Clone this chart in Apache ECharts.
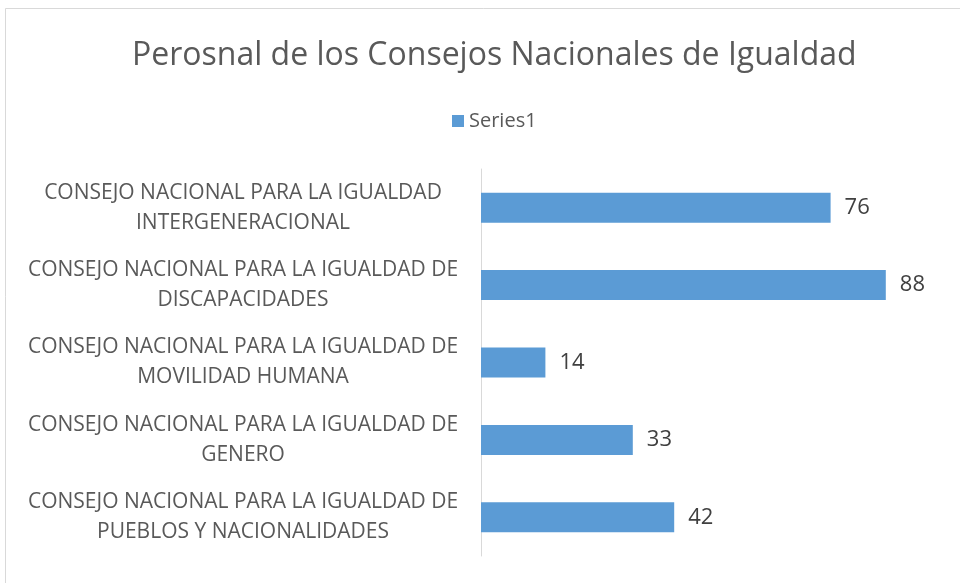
<!DOCTYPE html>
<html>
<head>
<meta charset="utf-8">
<script src="https://cdn.jsdelivr.net/npm/echarts@6/dist/echarts.min.js"></script>
<style>html,body{margin:0;padding:0;background:#fff;}#c{width:960px;height:583px;}</style>
</head>
<body>
<div id="c"></div>
<script>
const categories = [
  "CONSEJO NACIONAL PARA LA IGUALDAD\nINTERGENERACIONAL",
  "CONSEJO NACIONAL PARA LA IGUALDAD DE\nDISCAPACIDADES",
  "CONSEJO NACIONAL PARA LA IGUALDAD DE\nMOVILIDAD HUMANA",
  "CONSEJO NACIONAL PARA LA IGUALDAD DE\nGENERO",
  "CONSEJO NACIONAL PARA LA IGUALDAD DE\nPUEBLOS Y NACIONALIDADES"
];
const values = [76, 88, 14, 33, 42];
const seriesName = "Series1";
const titleText = "Perosnal de los Consejos Nacionales de Igualdad";

const chart = echarts.init(document.getElementById('c'), null, {renderer: 'canvas'});
const font = "'Open Sans', 'Liberation Sans', Arial, sans-serif";
chart.setOption({
  animation: false,
  backgroundColor: '#fff',
  graphic: [{
    type: 'rect', shape: {x: 5.5, y: 8.5, width: 1000, height: 700},
    style: {fill: 'none', stroke: '#d9d9d9', lineWidth: 1}, silent: true, z: -1
  }],
  title: {
    text: titleText, left: 127, top: 35,
    textStyle: {fontFamily: font, fontSize: 32, fontWeight: 'normal', color: '#595959'}
  },
  legend: {
    data: [seriesName], left: 447, top: 106, itemWidth: 12, itemHeight: 12, itemGap: 6,
    icon: 'rect',
    textStyle: {fontFamily: font, fontSize: 20, color: '#595959'}
  },
  grid: {left: 481, right: 19, top: 169, bottom: 27, containLabel: false},
  xAxis: {
    type: 'value', min: 0, max: 100, show: false, splitLine: {show: false}
  },
  yAxis: {
    type: 'category', data: categories, inverse: true,
    axisLine: {show: true, lineStyle: {color: '#d9d9d9', width: 1}},
    axisTick: {show: false},
    axisLabel: {
      fontFamily: font, fontSize: 21, color: '#595959', align: 'center',
      margin: 238, lineHeight: 30
    }
  },
  series: [{
    name: seriesName, type: 'bar', data: values, barWidth: 30,
    itemStyle: {color: '#5b9bd5'},
    label: {show: true, position: 'right', distance: 14, fontFamily: font, fontSize: 22, color: '#404040'}
  }]
});
</script>
</body>
</html>
